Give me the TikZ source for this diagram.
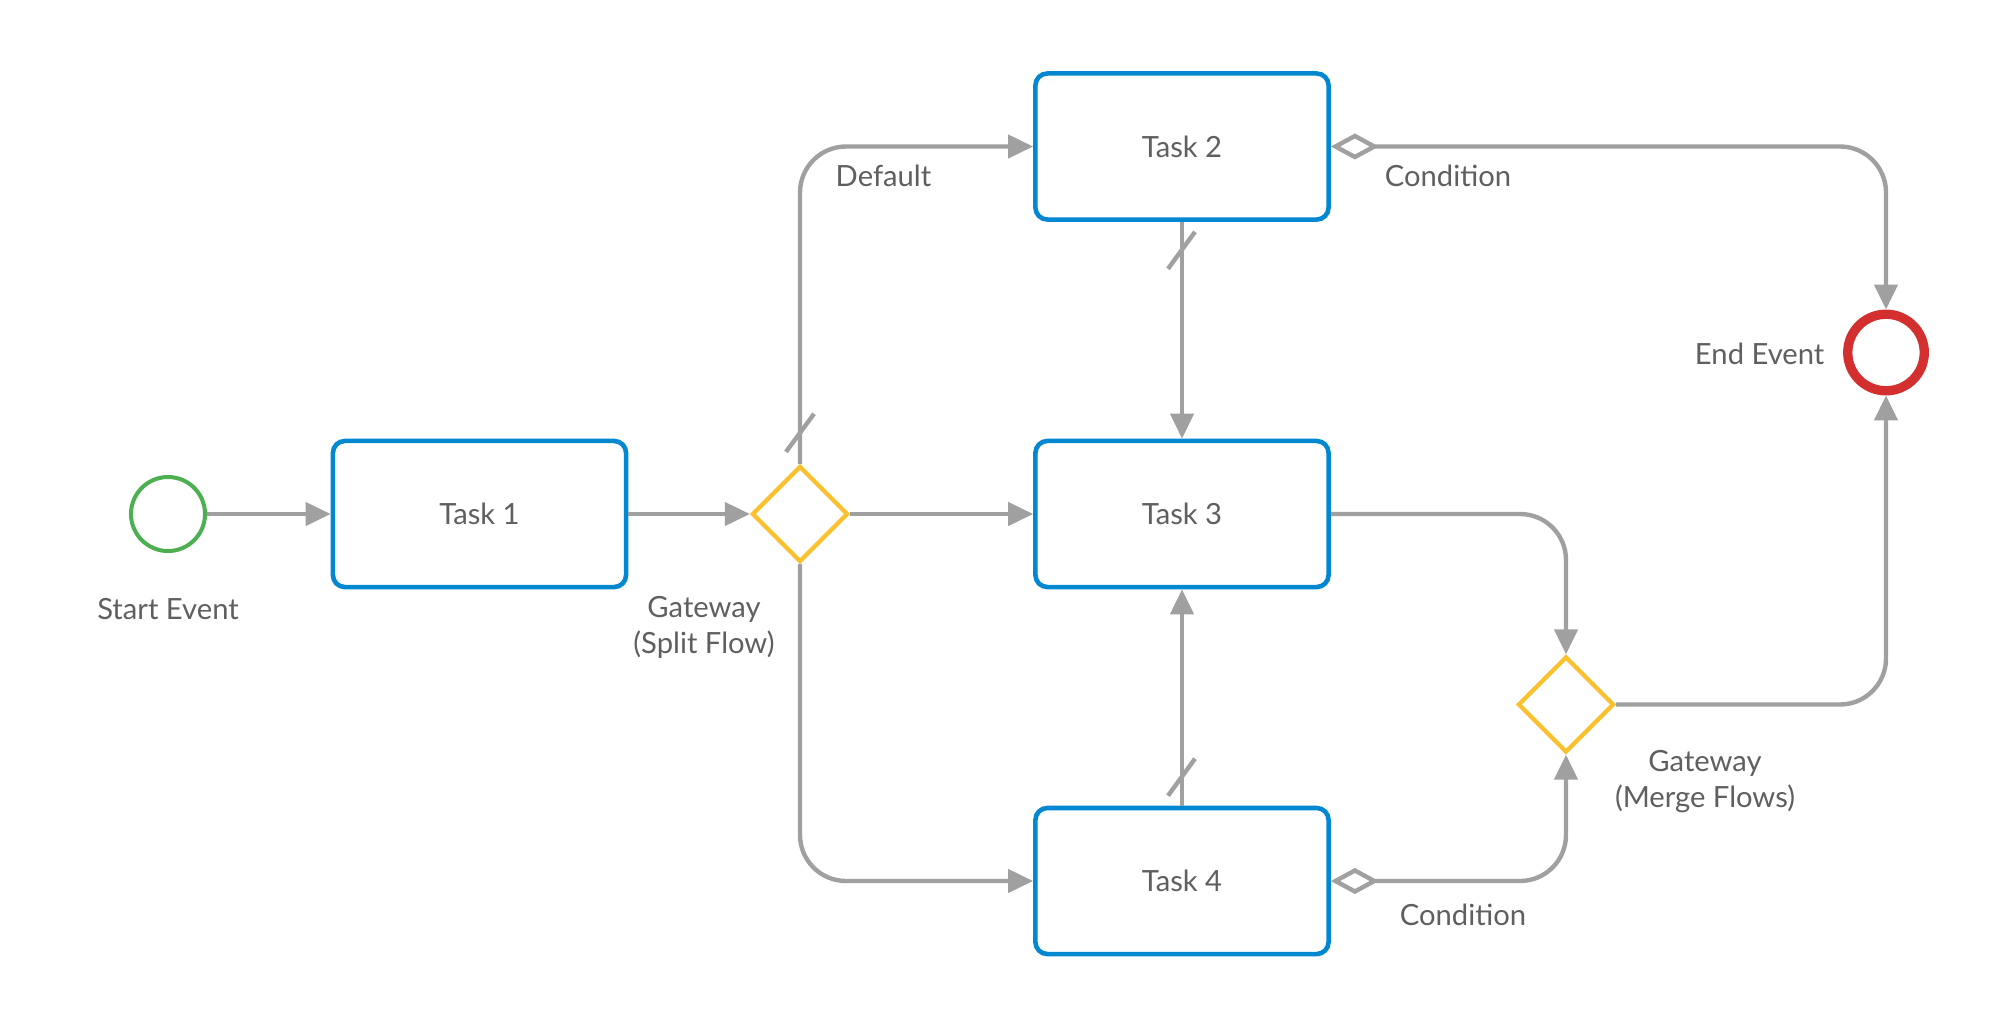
\documentclass[tikz,border=0pt]{standalone}
\usepackage{fontspec}
\setmainfont{Lato}
\usetikzlibrary{arrows.meta,shapes.geometric,calc}
\definecolor{flowgray}{HTML}{A0A0A0}
\definecolor{taskblue}{HTML}{0288D1}
\definecolor{gwyellow}{HTML}{FBC02D}
\definecolor{startgreen}{HTML}{4CAF50}
\definecolor{endred}{HTML}{D32F2F}
\definecolor{txtgray}{HTML}{5F5F5F}
\tikzset{
  every node/.style={font=\fontsize{8.3pt}{10.2pt}\selectfont, text=txtgray},
  taskbox/.style={draw=taskblue, line width=1.3pt, rounded corners=3.4pt, minimum width=2.93cm, minimum height=1.46cm, inner sep=0pt, fill=white},
  gwshape/.style={draw=gwyellow, diamond, aspect=1, line width=1.2pt, minimum width=0.96cm, minimum height=0.96cm, inner sep=0pt},
  startev/.style={draw=startgreen, circle, line width=1.14pt, minimum size=0.74cm, inner sep=0pt},
  endev/.style={draw=endred, circle, line width=2.65pt, minimum size=0.765cm, inner sep=0pt},
  flow/.style={draw=flowgray, line width=1.25pt, rounded corners=0.46cm, -{Triangle[length=0.25cm,width=0.23cm]}},
  condflow/.style={draw=flowgray, line width=1.25pt, rounded corners=0.46cm, {Diamond[open,length=0.48cm,width=0.26cm]}-{Triangle[length=0.25cm,width=0.23cm]}},
  slashmark/.style={draw=flowgray, line width=1.25pt}
}
\begin{document}
\begin{tikzpicture}[x=0.01cm,y=-0.01cm]
\useasboundingbox (0,0) rectangle (2000,1027);
% nodes
\node[startev] (start) at (168,514) {};
\node[taskbox] (t1) at (479.5,514) {Task 1};
\node[gwshape] (gw1) at (800,514) {};
\node[taskbox] (t2) at (1182,146.5) {Task 2};
\node[taskbox] (t3) at (1182,514) {Task 3};
\node[taskbox] (t4) at (1182,881) {Task 4};
\node[gwshape] (gw2) at (1566,704.5) {};
\node[endev] (end) at (1886,352.5) {};
% labels
\node (lstart) at (168,609) {Start Event};
\node[align=center] (lgw1) at (704,627) {Gateway\\(Split Flow)};
\node (ldef) at (883.5,176) {Default};
\node (lcond1) at (1448,176) {Condition};
\node[anchor=east, inner sep=0pt] (lend) at (1825,354) {End Event};
\node[align=center] (lgw2) at (1705,782) {Gateway\\(Merge Flows)};
\node (lcond2) at (1463,915) {Condition};
% connectors
\draw[flow] (start) -- (t1);
\draw[flow] (t1) -- (gw1);
\draw[flow] (gw1.north) |- (t2.west);
\draw[flow] (gw1.east) -- (t3.west);
\draw[flow] (gw1.south) |- (t4.west);
\draw[flow] (t2.south) -- (t3.north);
\draw[flow] (t4.north) -- (t3.south);
\draw[condflow] (t2.east) -| (end.north);
\draw[flow] (t3.east) -| (gw2.north);
\draw[condflow] (t4.east) -| (gw2.south);
\draw[flow] (gw2.east) -| (end.south);
% default-flow slashes
\draw[slashmark] ($(gw1.north)+(-14,-12)$) -- ($(gw1.north)+(14,-50)$);
\draw[slashmark] ($(t2.south)+(-14,47)$) -- ($(t2.south)+(13,10)$);
\draw[slashmark] ($(t4.north)+(-14,-10)$) -- ($(t4.north)+(13,-47)$);
\end{tikzpicture}
\end{document}
